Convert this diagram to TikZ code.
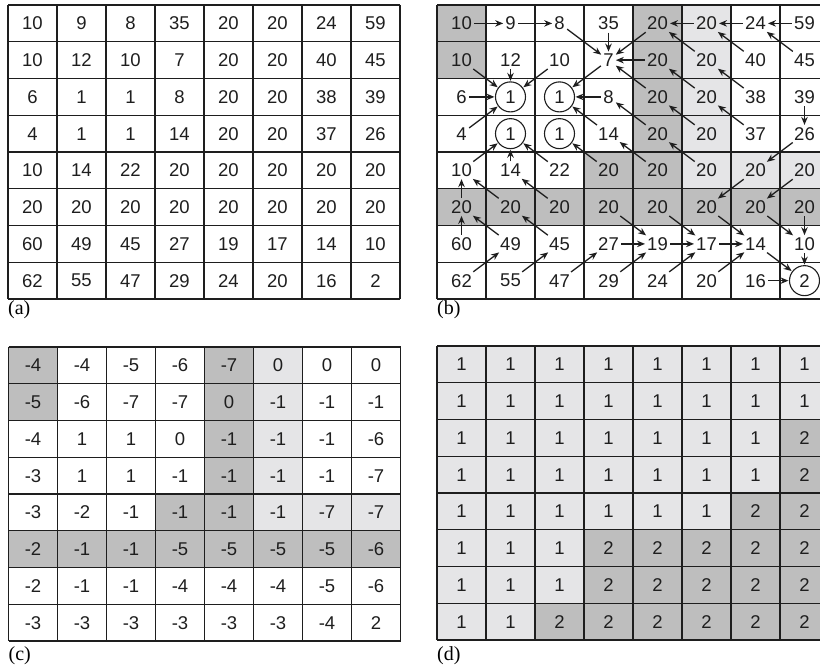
\documentclass[tikz,border=0pt]{standalone}
\usepackage{fontspec}
\setmainfont{Liberation Serif}
\newfontfamily\digitfont{Liberation Sans}
\usetikzlibrary{arrows.meta}
\definecolor{ink}{RGB}{30,30,30}
\definecolor{deepgray}{RGB}{190,190,190}
\definecolor{palegray}{RGB}{229,229,231}
% shading shared by (b) and (c)
\newcommand{\ridgecells}{0/0,1/0,0/4,1/4,2/4,3/4,4/3,4/4,5/0,5/1,5/2,5/3,5/4,5/5,5/6,5/7}
\newcommand{\plateaucells}{0/5,1/5,2/5,3/5,4/5,4/6,4/7}
\begin{document}
\begin{tikzpicture}[x=1pt,y=-1pt,
  cell/.style={font=\digitfont\fontsize{18.5}{18.5}\selectfont,text=ink,inner sep=1.5pt},
  sink/.style={circle,draw=ink,line width=1.1pt,minimum size=30pt,inner sep=0pt},
  sink 2-1/.style={sink}, sink 2-2/.style={sink},
  sink 3-1/.style={sink}, sink 3-2/.style={sink}, sink 7-7/.style={sink},
  flow/.style={draw=ink,line width=1.3pt,-{Stealth[length=8pt,width=6.5pt]},shorten <=1pt,shorten >=0.5pt},
  rule/.style={draw=ink,line width=1.3pt},
  caption/.style={font=\fontsize{20}{20}\selectfont,anchor=north west,inner sep=0pt}]

\useasboundingbox (0,0) rectangle (820,669);

% (a) image values
\begin{scope}[shift={(8,5)}]
\foreach \row [count=\r from 0] in {{10,9,8,35,20,20,24,59},{10,12,10,7,20,20,40,45},{6,1,1,8,20,20,38,39},{4,1,1,14,20,20,37,26},{10,14,22,20,20,20,20,20},{20,20,20,20,20,20,20,20},{60,49,45,27,19,17,14,10},{62,55,47,29,24,20,16,2}}
  \foreach \v [count=\c from 0] in \row
    \node[cell] (a-\r-\c) at ({49*\c+24.5},{36.75*\r+18.4}) {\v};
\foreach \k in {0,...,8} {
  \draw[rule] ({49*\k},0) -- ({49*\k},294);
  \draw[rule] (0,{36.75*\k}) -- (392,{36.75*\k});
}
\node[caption] (tag-a) at (0,295) {(a)};
\end{scope}

% (b) flow directions
\begin{scope}[shift={(437,5)}]
\foreach \r/\c in \ridgecells
  \fill[deepgray] ({49*\c},{36.75*\r}) rectangle ++(49,36.75);
\foreach \r/\c in \plateaucells
  \fill[palegray] ({49*\c},{36.75*\r}) rectangle ++(49,36.75);
\foreach \k in {0,...,8} {
  \draw[rule] ({49*\k},0) -- ({49*\k},294);
  \draw[rule] (0,{36.75*\k}) -- (392,{36.75*\k});
}
\foreach \row [count=\r from 0] in {{10,9,8,35,20,20,24,59},{10,12,10,7,20,20,40,45},{6,1,1,8,20,20,38,39},{4,1,1,14,20,20,37,26},{10,14,22,20,20,20,20,20},{20,20,20,20,20,20,20,20},{60,49,45,27,19,17,14,10},{62,55,47,29,24,20,16,2}}
  \foreach \v [count=\c from 0] in \row
    \node[cell,sink \r-\c/.try] (b-\r-\c) at ({49*\c+24.5},{36.75*\r+18.4}) {\v};
\foreach \p/\q in {0-0/0-1,0-1/0-2,0-2/1-3,0-3/1-3,0-4/1-3,0-5/0-4,0-6/0-5,0-7/0-6,
    1-0/2-1,1-1/2-1,1-2/2-1,1-3/2-2,1-4/1-3,1-5/0-4,1-6/0-5,1-7/0-6,
    2-0/2-1,2-3/2-2,2-4/1-3,2-5/1-4,2-6/1-5,2-7/3-7,
    3-0/2-1,3-3/2-2,3-4/2-3,3-5/2-4,3-6/2-5,3-7/4-6,
    4-0/3-1,4-1/3-1,4-2/3-1,4-3/3-2,4-4/3-3,4-5/3-4,4-6/5-5,4-7/5-6,
    5-0/4-0,5-1/4-0,5-2/4-1,5-3/6-4,5-4/6-5,5-5/6-6,5-6/6-7,5-7/6-7,
    6-0/5-0,6-1/5-0,6-2/5-1,6-3/6-4,6-4/6-5,6-5/6-6,6-6/7-7,6-7/7-7,
    7-0/6-1,7-1/6-2,7-2/6-3,7-3/6-4,7-4/6-5,7-5/6-6,7-6/7-7}
  \draw[flow] (b-\p) -- (b-\q);
\node[caption] (tag-b) at (0,295) {(b)};
\end{scope}

% (c) differences
\begin{scope}[shift={(8.5,347)}]
\foreach \r/\c in \ridgecells
  \fill[deepgray] ({49*\c},{36.75*\r}) rectangle ++(49,36.75);
\foreach \r/\c in \plateaucells
  \fill[palegray] ({49*\c},{36.75*\r}) rectangle ++(49,36.75);
\foreach \k in {0,...,8} {
  \draw[rule] ({49*\k},0) -- ({49*\k},294);
  \draw[rule] (0,{36.75*\k}) -- (392,{36.75*\k});
}
\foreach \row [count=\r from 0] in {{-4,-4,-5,-6,-7,0,0,0},{-5,-6,-7,-7,0,-1,-1,-1},{-4,1,1,0,-1,-1,-1,-6},{-3,1,1,-1,-1,-1,-1,-7},{-3,-2,-1,-1,-1,-1,-7,-7},{-2,-1,-1,-5,-5,-5,-5,-6},{-2,-1,-1,-4,-4,-4,-5,-6},{-3,-3,-3,-3,-3,-3,-4,2}}
  \foreach \v [count=\c from 0] in \row
    \node[cell] (c-\r-\c) at ({49*\c+24.5},{36.75*\r+18.4}) {\v};
\node[caption] (tag-c) at (0,299) {(c)};
\end{scope}

% (d) labels
\begin{scope}[shift={(437,346)}]
\fill[palegray] (0,0) rectangle (392,294);
\foreach \r/\c in {2/7,3/7,4/6,4/7,5/3,5/4,5/5,5/6,5/7,6/3,6/4,6/5,6/6,6/7,7/2,7/3,7/4,7/5,7/6,7/7}
  \fill[deepgray] ({49*\c},{36.75*\r}) rectangle ++(49,36.75);
\foreach \k in {0,...,8} {
  \draw[rule] ({49*\k},0) -- ({49*\k},294);
  \draw[rule] (0,{36.75*\k}) -- (392,{36.75*\k});
}
\foreach \row [count=\r from 0] in {{1,1,1,1,1,1,1,1},{1,1,1,1,1,1,1,1},{1,1,1,1,1,1,1,2},{1,1,1,1,1,1,1,2},{1,1,1,1,1,1,2,2},{1,1,1,2,2,2,2,2},{1,1,1,2,2,2,2,2},{1,1,2,2,2,2,2,2}}
  \foreach \v [count=\c from 0] in \row
    \node[cell] (d-\r-\c) at ({49*\c+24.5},{36.75*\r+18.4}) {\v};
\node[caption] (tag-d) at (0,300) {(d)};
\end{scope}
\end{tikzpicture}
\end{document}
